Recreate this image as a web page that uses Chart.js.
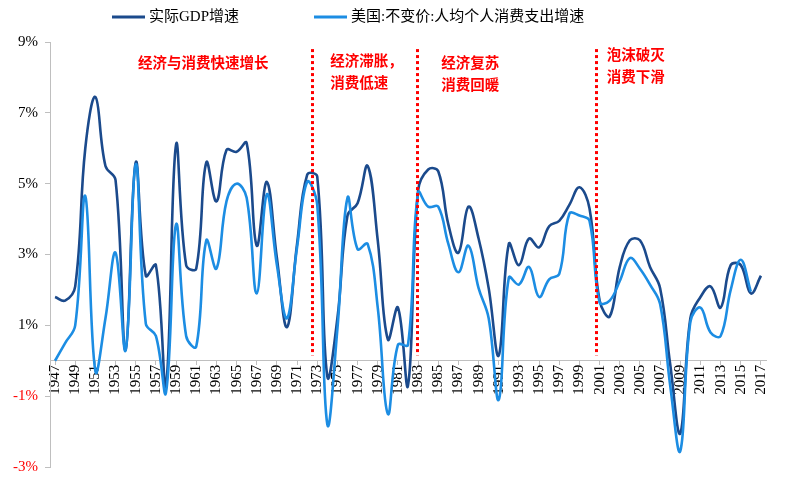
<!DOCTYPE html>
<html>
<head>
<meta charset="utf-8">
<script src="https://cdn.jsdelivr.net/npm/chart.js@4/dist/chart.umd.min.js"></script>
<style>
    body { margin: 0; background: #fff; }
    #wrap { width: 792px; height: 478px; }
</style>
</head>
<body>
<div id="wrap"><canvas id="chart" width="792" height="478"></canvas></div>
<script>
const years = [
    '1947','1948','1949','1950','1951','1952','1953','1954','1955','1956',
    '1957','1958','1959','1960','1961','1962','1963','1964','1965','1966',
    '1967','1968','1969','1970','1971','1972','1973','1974','1975','1976',
    '1977','1978','1979','1980','1981','1982','1983','1984','1985','1986',
    '1987','1988','1989','1990','1991','1992','1993','1994','1995','1996',
    '1997','1998','1999','2000','2001','2002','2003','2004','2005','2006',
    '2007','2008','2009','2010','2011','2012','2013','2014','2015','2016',
    '2017'
];

// 实际GDP增速 (%)
const gdpGrowth = [
    1.8, 1.7, 2.1, 6.0, 7.45, 5.5, 5.1, 0.3, 5.6, 2.4,
    2.7, -0.7, 6.1, 2.7, 2.6, 5.6, 4.5, 5.95, 5.9, 6.15,
    3.25, 5.05, 2.9, 0.95, 3.3, 5.25, 5.2, -0.45, 1.2, 4.1,
    4.45, 5.5, 3.4, 0.6, 1.5, -0.7, 4.8, 5.4, 5.35, 3.85,
    3.05, 4.35, 3.45, 2.05, 0.15, 3.3, 2.7, 3.45, 3.2, 3.8,
    3.95, 4.4, 4.9, 4.3, 1.7, 1.25, 2.65, 3.4, 3.4, 2.65,
    2.05, -0.1, -2.05, 1.2, 1.8, 2.1, 1.5, 2.7, 2.7, 1.9,
    2.4
];

// 美国:不变价:人均个人消费支出增速 (%)
const pceGrowth = [
    0.0, 0.5, 1.0, 4.65, -0.3, 1.2, 3.05, 0.3, 5.55, 1.05,
    0.7, -0.9, 3.85, 0.7, 0.4, 3.4, 2.6, 4.5, 5.0, 4.6,
    1.9, 4.7, 2.7, 1.2, 3.2, 5.05, 4.4, -1.8, 0.9, 4.6,
    3.15, 3.3, 1.5, -1.5, 0.45, 0.45, 4.75, 4.35, 4.35, 3.3,
    2.5, 3.25, 2.05, 1.2, -1.1, 2.35, 2.15, 2.65, 1.8, 2.3,
    2.45, 4.15, 4.1, 3.95, 1.65, 1.7, 2.25, 2.9, 2.6, 2.15,
    1.6, -0.7, -2.55, 1.1, 1.5, 0.8, 0.7, 2.0, 2.85, 1.95,
    null
];

const yTicks = [-3, -1, 1, 3, 5, 7, 9];

// phase separators (year) and the red notes for each phase
const phaseBreaks = [1972.5, 1982.9, 2000.6];
const phaseNotes = [
    ['经济与消费快速增长'],
    ['经济滞胀，', '消费低速'],
    ['经济复苏', '消费回暖'],
    ['泡沫破灭', '消费下滑']
];
const noteAnchors = [
    { year: 1961.7, value: 8.41, align: 'center' },
    { year: 1974.3, value: 8.49, align: 'left' },
    { year: 1985.3, value: 8.41, align: 'left' },
    { year: 2001.7, value: 8.66, align: 'left' }
];

const serif = "'Liberation Serif', 'Times New Roman', 'Noto Sans CJK SC', serif";
const axisGray = '#bfbfbf';

function yearToPixel(chart, year) {
    return chart.scales.x.getPixelForValue(year - Number(years[0]));
}

const phasePlugin = {
    id: 'phases',
    afterDatasetsDraw(chart) {
        const { ctx } = chart;
        const y = chart.scales.y;
        ctx.save();
        ctx.strokeStyle = '#ff0000';
        ctx.lineWidth = 3;
        ctx.setLineDash([3, 3]);
        phaseBreaks.forEach(year => {
            const x = Math.round(yearToPixel(chart, year)) + 0.5;
            ctx.beginPath();
            ctx.moveTo(x, y.getPixelForValue(8.8));
            ctx.lineTo(x, y.getPixelForValue(0.15));
            ctx.stroke();
        });
        ctx.setLineDash([]);
        ctx.fillStyle = '#ff0000';
        ctx.font = "700 14.5px 'Noto Sans CJK SC', sans-serif";
        ctx.textBaseline = 'middle';
        phaseNotes.forEach((lines, i) => {
            const a = noteAnchors[i];
            ctx.textAlign = a.align;
            const x = yearToPixel(chart, a.year);
            const top = y.getPixelForValue(a.value);
            lines.forEach((t, j) => ctx.fillText(t, x, top + j * 22));
        });
        ctx.restore();
    }
};

// legend drawn by hand so it sits left of centre like the original
const lineLegend = {
    id: 'lineLegend',
    afterDraw(chart) {
        const { ctx } = chart;
        ctx.save();
        ctx.font = '15px ' + serif;
        ctx.textBaseline = 'middle';
        ctx.textAlign = 'left';
        let x = 112;
        const y = 17;
        chart.data.datasets.forEach(ds => {
            ctx.strokeStyle = ds.borderColor;
            ctx.lineWidth = 3;
            ctx.beginPath();
            ctx.moveTo(x, y);
            ctx.lineTo(x + 33, y);
            ctx.stroke();
            ctx.fillStyle = '#000';
            ctx.fillText(ds.label, x + 37, y);
            x += 37 + ctx.measureText(ds.label).width + 75;
        });
        ctx.restore();
    }
};

new Chart(document.getElementById('chart'), {
    type: 'line',
    data: {
        labels: years,
        datasets: [
            {
                label: '实际GDP增速',
                data: gdpGrowth,
                borderColor: '#1b4a8c',
                borderWidth: 2.6,
                tension: 0.4,
                pointRadius: 0,
                order: 1
            },
            {
                label: '美国:不变价:人均个人消费支出增速',
                data: pceGrowth,
                borderColor: '#1c8de3',
                borderWidth: 2.6,
                tension: 0.4,
                pointRadius: 0,
                spanGaps: false,
                order: 0
            }
        ]
    },
    options: {
        responsive: false,
        animation: false,
        layout: { padding: { top: 42, right: 26, bottom: 11, left: 0 } },
        plugins: {
            legend: { display: false },
            tooltip: { enabled: false }
        },
        scales: {
            x: {
                type: 'category',
                offset: true,
                position: { y: 0 },
                border: { color: axisGray, width: 1 },
                grid: {
                    drawOnChartArea: false,
                    tickLength: 4,
                    color: ctx => ctx.index % 2 === 0 ? axisGray : 'rgba(0,0,0,0)'
                },
                ticks: {
                    autoSkip: false,
                    maxRotation: 90,
                    minRotation: 90,
                    padding: 0,
                    color: '#000',
                    font: { family: serif, size: 15 },
                    callback: (v, i) => i % 2 === 0 ? years[i] : ''
                }
            },
            y: {
                min: -3,
                max: 9,
                afterBuildTicks: scale => { scale.ticks = yTicks.map(v => ({ value: v })); },
                afterFit: scale => {
                    scale.width = 50;
                    // the tick padding would otherwise push the plot area up
                    scale.paddingTop = 8;
                    scale.paddingBottom = 8;
                },
                border: { color: axisGray, width: 1 },
                grid: { drawOnChartArea: false, tickLength: 5, color: axisGray },
                ticks: {
                    padding: 7,
                    font: { family: serif, size: 15 },
                    color: ctx => ctx.tick.value < 0 ? '#ff0000' : '#000',
                    callback: v => v + '%'
                }
            }
        }
    },
    plugins: [phasePlugin, lineLegend]
});
</script>
</body>
</html>
